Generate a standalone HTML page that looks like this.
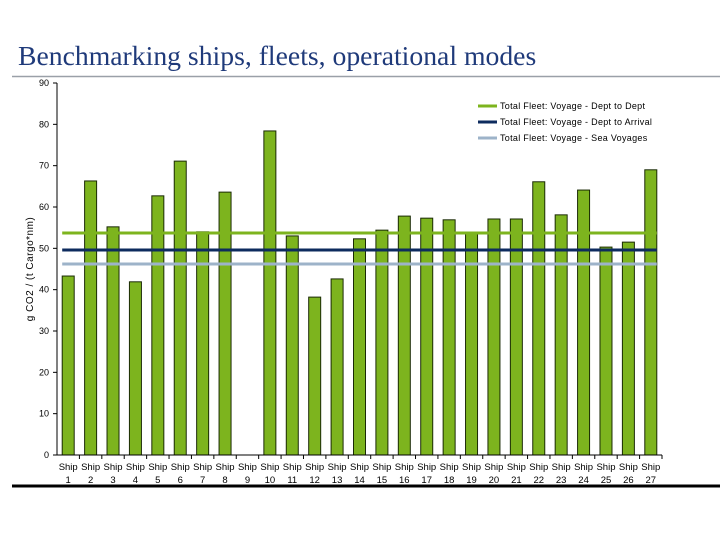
<!DOCTYPE html>
<html><head><meta charset="utf-8"><style>
body{margin:0;background:#fff;width:720px;height:540px;overflow:hidden;font-family:"Liberation Sans",sans-serif}
</style></head><body>
<svg width="720" height="540" xmlns="http://www.w3.org/2000/svg">
<text x="18" y="65" font-family="Liberation Serif, serif" font-size="27.7" fill="#1f3a7a">Benchmarking ships, fleets, operational modes</text>
<line x1="12" y1="76.5" x2="720" y2="76.5" stroke="#9aa0a8" stroke-width="1.5"/>
<line x1="12" y1="486" x2="720" y2="486" stroke="#000" stroke-width="3"/>
<g id="plot"></g>
<text transform="translate(33,269) rotate(-90)" text-anchor="middle" font-size="10" letter-spacing="0.5" fill="#000">g CO2 / (t Cargo*nm)</text>
<g font-size="9" letter-spacing="0.3" fill="#000">
<g><line x1="478" y1="106" x2="497" y2="106" stroke="#7db41e" stroke-width="3"/><text x="500" y="109">Total Fleet: Voyage - Dept to Dept</text></g>
<g><line x1="478" y1="122" x2="497" y2="122" stroke="#0d2b5e" stroke-width="3"/><text x="500" y="125">Total Fleet: Voyage - Dept to Arrival</text></g>
<g><line x1="478" y1="138" x2="497" y2="138" stroke="#9db3c9" stroke-width="3"/><text x="500" y="141">Total Fleet: Voyage - Sea Voyages</text></g>
</g>
</svg>
<script>
const categories=[1,2,3,4,5,6,7,8,9,10,11,12,13,14,15,16,17,18,19,20,21,22,23,24,25,26,27];
const values=[43.3,66.3,55.2,41.9,62.7,71.1,54,63.6,0,78.4,53,38.2,42.6,52.3,54.4,57.8,57.3,56.9,53.7,57.1,57.1,66.1,58.1,64.1,50.3,51.5,69];
const yTicks=[0,10,20,30,40,50,60,70,80,90];
const avgDeptDept=[53.7];
const avgDeptArrival=[49.6];
const avgSea=[46.2];
const NS="http://www.w3.org/2000/svg";
const g=document.getElementById('plot');
const x0=57,x1=662,yTop=83,yBot=455,yMax=90;
const band=(x1-x0)/categories.length;
function y(v){return yBot-(v/yMax)*(yBot-yTop);}
function xc(i){return x0+band*(i+0.5);}
function mk(t,a){const e=document.createElementNS(NS,t);for(const k in a)e.setAttribute(k,a[k]);g.appendChild(e);return e;}
yTicks.forEach(t=>{
  const l=mk('line',{x1:x0-4,x2:x0,y1:y(t),y2:y(t),stroke:'#000'});
  
  
  const tx=mk('text',{x:x0-8,y:y(t)+3,'text-anchor':'end','font-size':'9'});
  tx.textContent=t;
  
  
});
values.forEach((v,i)=>{
  if(v>0){
    const r=mk('rect',{x:xc(i)-6,y:y(v),width:12,height:yBot-y(v),fill:'#7db41e',stroke:'#1a2a05','stroke-width':1});
    
    
  }
  const tk=mk('line',{x1:x0+band*(i+1),x2:x0+band*(i+1),y1:yBot,y2:yBot+4,stroke:'#000'});
  
  
  const t1=mk('text',{x:xc(i),y:470,'text-anchor':'middle','font-size':'9.5'});
  t1.textContent='Ship';
  
  
  const t2=mk('text',{x:xc(i),y:483,'text-anchor':'middle','font-size':'9.5'});
  t2.textContent=categories[i];
  
  
});
[[avgDeptDept,'#7db41e','line-dept-to-dept'],[avgDeptArrival,'#0d2b5e','line-dept-to-arrival'],[avgSea,'#9db3c9','line-sea-voyages']].forEach(([a,c,n])=>{
  const l=mk('line',{x1:xc(0)-6,x2:xc(categories.length-1)+6,y1:y(a[0]),y2:y(a[0]),stroke:c,'stroke-width':3});
  
  
});
const ya=mk('line',{x1:x0,x2:x0,y1:yTop,y2:yBot,stroke:'#000'});


const xa=mk('line',{x1:x0,x2:x1,y1:yBot,y2:yBot,stroke:'#000'});


</script>
</body></html>
